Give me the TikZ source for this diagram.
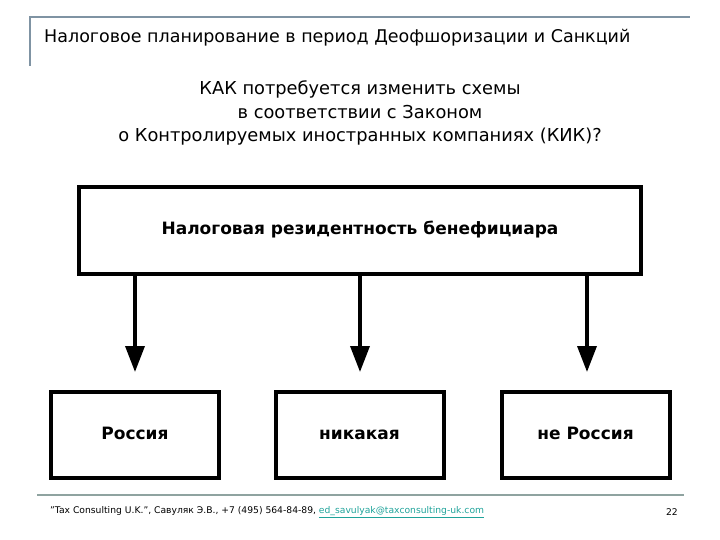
\documentclass[tikz,border=0pt]{standalone}
\usepackage{fontspec}
\setmainfont{DejaVu Sans}
\usetikzlibrary{arrows.meta}
\definecolor{frameblue}{HTML}{7F93A3}
\definecolor{footline}{HTML}{8FA3A0}
\definecolor{linkcol}{HTML}{1FA39A}
\tikzset{
  x=1pt,y=-1pt,
  bigbox/.style={draw=black,line width=4pt,minimum width=562pt,minimum height=87pt,inner sep=0pt,text height=12pt,text depth=3pt,font=\fontsize{17}{20}\selectfont\bfseries},
  smallbox/.style={draw=black,line width=4pt,minimum width=168pt,minimum height=86pt,inner sep=0pt,text height=12pt,text depth=3pt,font=\fontsize{17}{20}\selectfont\bfseries},
  arr/.style={line width=3.5pt,-{Triangle[length=26pt,width=19pt]}},
}
\begin{document}
\begin{tikzpicture}
\useasboundingbox (0,0) rectangle (720,540);
% title frame
\draw[frameblue,line width=1.5pt] (30,66) -- (30,17) -- (690,17);
\node[anchor=west,inner sep=0pt,font=\fontsize{17.5}{20}\selectfont] (title) at (44,38) {Налоговое планирование в период Деофшоризации и Санкций};
% subtitle
\node[align=center,inner sep=0pt,font=\fontsize{17.8}{23.5}\selectfont] (sub) at (360,113) {КАК потребуется изменить схемы\\в соответствии с Законом\\о Контролируемых иностранных компаниях (КИК)?};
% boxes
\node[bigbox] (top) at (360,230.5) {Налоговая резидентность бенефициара};
\node[smallbox] (b1) at (135,435) {Россия};
\node[smallbox] (b2) at (359.5,435) {никакая};
\node[smallbox] (b3) at (585.5,435) {не Россия};
% arrows
\coordinate (e1) at (135,372);
\coordinate (e2) at (360,372);
\coordinate (e3) at (587,372);
\draw[arr] (top.south -| e1) -- (e1);
\draw[arr] (top.south -| e2) -- (e2);
\draw[arr] (top.south -| e3) -- (e3);
% footer
\draw[footline,line width=1.5pt] (37,495) -- (684,495);
\node[anchor=west,inner sep=0pt,font=\fontsize{9.2}{10}\selectfont] (foot) at (50,512) {"Tax Consulting U.K.", Савуляк Э.В., +7 (495) 564-84-89, \textcolor{linkcol}{\underline{ed\_savulyak@taxconsulting-uk.com}}};
\node[anchor=east,inner sep=0pt,font=\fontsize{9.2}{10}\selectfont] (pg) at (678,512) {22};
\end{tikzpicture}
\end{document}
